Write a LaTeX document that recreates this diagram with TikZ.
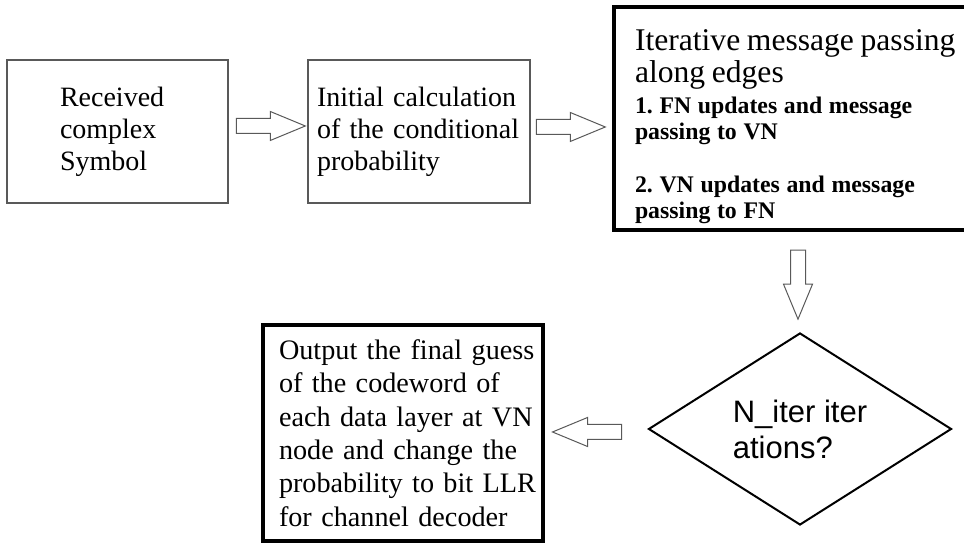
\documentclass[tikz,border=0pt]{standalone}
\usepackage{fontspec}
\setmainfont{Liberation Serif}
\newfontfamily\arialfont{Liberation Sans}
\usetikzlibrary{shapes.geometric,shapes.arrows,calc}
\pgfdeclarelayer{edgelayer}
\pgfdeclarelayer{nodelayer}
\pgfsetlayers{edgelayer,nodelayer,main}
\frenchspacing
\tikzstyle{greybox}=[rectangle,draw=black!65,line width=0.8pt,minimum height=71.5pt,font=\fontsize{14}{16}\selectfont,align=left]
\tikzstyle{thickbox}=[rectangle,draw=black,line width=1.7pt,align=left]
\tikzstyle{decision}=[diamond,draw=black,line width=1pt,minimum width=151.5pt,minimum height=96pt,shape aspect=1.58,inner sep=0pt,align=left,font=\arialfont\fontsize{15.5}{18}\selectfont]
\tikzstyle{hollow}=[single arrow,draw=black!65,line width=0.5pt,fill=white,inner sep=3.5pt,minimum width=0pt,single arrow head extend=3.5pt,single arrow tip angle=45,minimum height=34.5pt,anchor=tail]

\begin{document}
\begin{tikzpicture}[x=1pt,y=1pt]
	\useasboundingbox (0,0) rectangle (482,272);
	\clip (0,0) rectangle (482,272);
	\begin{pgfonlayer}{nodelayer}
		\node [style=greybox, text width=57.5pt, inner xsep=26.5pt] (rx) at (58.75,206.25) {Received\\complex\\Symbol};
		\node [style=greybox, text width=102pt, inner xsep=4.5pt] (init) at (209.5,206.25) {Initial calculation\\of the conditional\\probability};
		\node [style=thickbox, text width=164pt, inner xsep=10.5pt, inner ysep=1pt, minimum height=111.5pt] (iter) at (399.5,212.75) {%
			{\fontsize{15.8}{16}\selectfont\rule{0pt}{19pt}Iterative message passing\\along edges\par}\vspace{2.5pt}
			{\bfseries\fontsize{11.9}{13}\selectfont 1. FN updates and message\\passing to VN\par\vspace{13.5pt}
			2. VN updates and message\\passing to FN\par}};
		\node [style=decision] (dec) at (400,57.5) {N\_iter iter\\ations?};
		\node [style=thickbox, text width=138pt, inner xsep=1pt, minimum height=108pt, font=\fontsize{14.1}{16.7}\selectfont] (out) at (201.5,55.5) {\leftskip=7pt Output the final guess\\of the codeword of\\each data layer at VN\\node and change the\\probability to bit LLR\\for channel decoder\par};
	\end{pgfonlayer}
	\begin{pgfonlayer}{edgelayer}
		\node [style=hollow] (a1) at ($(rx.east)+(3.5,2.75)$) {};
		\node [style=hollow] (a2) at ($(init.east)+(2.5,2.25)$) {};
		\node [style=hollow, shape border rotate=270] (a3) at ($(iter.south)+(-0.5,-9)$) {};
		\node [style=hollow, shape border rotate=180] (a4) at ($(dec.west)+(-12.75,-1.5)$) {};
	\end{pgfonlayer}
\end{tikzpicture}
\end{document}
